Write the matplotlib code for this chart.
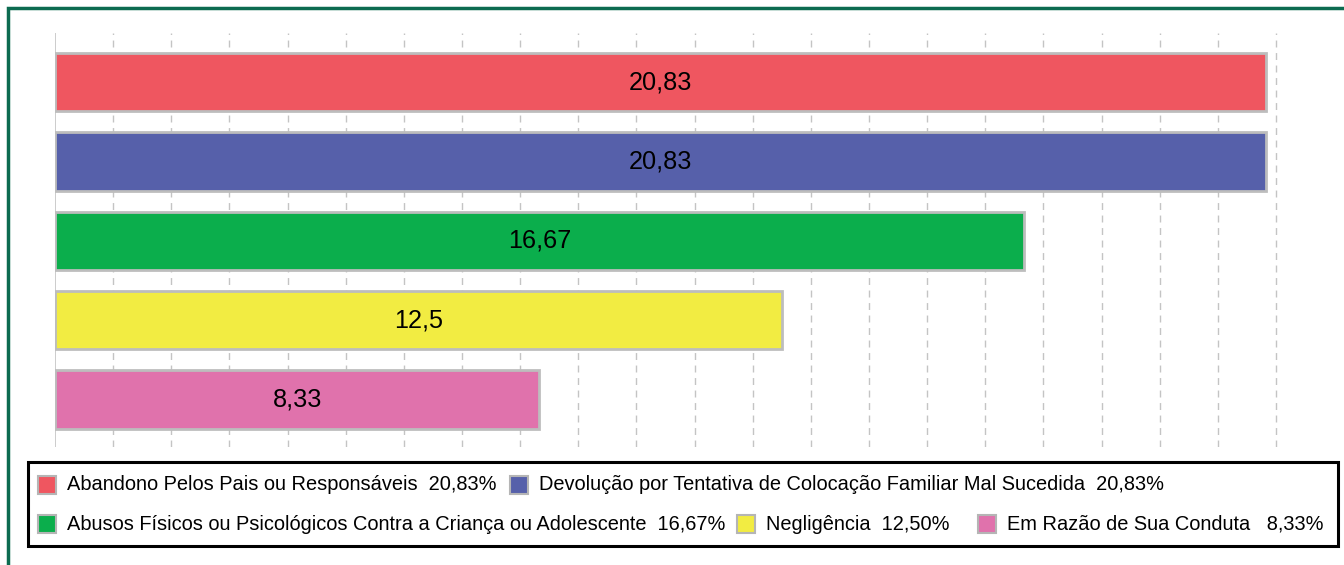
import matplotlib
matplotlib.use("Agg")
import matplotlib.pyplot as plt
from matplotlib.patches import Rectangle

plt.rcParams['font.family'] = ['Liberation Sans', 'DejaVu Sans']

categories = [
    "Abandono Pelos Pais ou Responsáveis",
    "Devolução por Tentativa de Colocação Familiar Mal Sucedida",
    "Abusos Físicos ou Psicológicos Contra a Criança ou Adolescente",
    "Negligência",
    "Em Razão de Sua Conduta",
]
values = [20.83, 20.83, 16.67, 12.5, 8.33]
colors = ["#EF5660", "#5660AA", "#0BAE4C", "#F2EC42", "#E072AC"]

W, H = 1344, 565
fig = plt.figure(figsize=(W / 100, H / 100), dpi=100)

def fx(px):
    return px / W

def fy(py):
    return 1 - py / H

# axes: x=55 -> 0, x=1276 -> 21
ax_left, ax_right, ax_top, ax_bottom = 55, 1279, 33, 447
ax = fig.add_axes([fx(ax_left), fy(ax_bottom), (ax_right - ax_left) / W, (ax_bottom - ax_top) / H])
ax.set_xlim(0, 21 * (ax_right - ax_left) / (1276 - ax_left))
ax.set_ylim(4.6, -0.62)

for s in ax.spines.values():
    s.set_visible(False)
ax.set_xticks([])
ax.set_yticks([])

for g in range(1, 22):
    ax.axvline(g, color="#C4C4C4", lw=1.0, ls=(0, (5, 4)), zorder=0)
ax.axvline(0, color="#C4C4C4", lw=1.2, zorder=0)

ypos = list(range(len(values)))
bars = ax.barh(ypos, values, height=0.735, color=colors, edgecolor="#BDBDBD",
               linewidth=2.0, zorder=2)
for y, v in zip(ypos, values):
    ax.text(v / 2, y, str(v).replace('.', ','), ha="center", va="center",
            fontsize=18.2, color="black", zorder=3)

# legend box
fig.patches.append(Rectangle((fx(28), fy(546)), fx(1338) - fx(28), fy(462) - fy(546),
                             transform=fig.transFigure, fill=False, edgecolor="black",
                             lw=2.2, zorder=5))

pct = [f"{v:.2f}".replace('.', ',') + '%' for v in values]
seps = ["  ", "  ", "  ", "  ", "   "]
# (square left x, row center y) layout in pixels
entry_pos = [(38, 485), (510, 485), (38, 524), (737, 524), (978, 524)]
sq = 18
for (x0, yc), c, lab, p, sp in zip(entry_pos, colors, categories, pct, seps):
    fig.patches.append(Rectangle((fx(x0), fy(yc + sq / 2)), sq / W, sq / H,
                                 transform=fig.transFigure, facecolor=c,
                                 edgecolor="#B5B5B5", lw=1.5, zorder=6))
    fig.text(fx(x0 + sq + 11), fy(yc), lab + sp + p, ha="left", va="center",
             fontsize=14.4, color="black", zorder=6)

# outer green frame
fig.patches.append(Rectangle((fx(8), fy(H + 20)), fx(W + 20) - fx(8), fy(8) - fy(H + 20),
                             transform=fig.transFigure, fill=False,
                             edgecolor="#0C6B50", lw=2.5, zorder=7))

fig.savefig("out.png", dpi=100)
